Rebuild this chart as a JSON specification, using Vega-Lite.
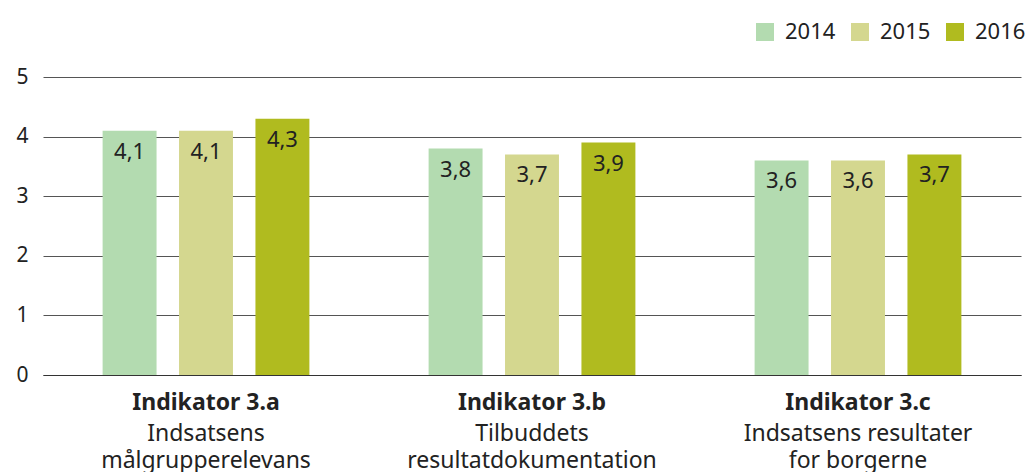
{
  "$schema": "https://vega.github.io/schema/vega-lite/v6.json",
  "width": 978,
  "height": 298,
  "autosize": "none",
  "padding": {"left": 43, "top": 77, "right": 8, "bottom": 97},
  "config": {
    "view": {"stroke": null},
    "font": "Noto Sans",
    "locale": {"number": {"decimal": ",", "thousands": ".", "grouping": [3], "currency": ["", " kr."]}}
  },
  "data": {
    "values": [
      {"indikator": "Indikator 3.a", "year": "2014", "value": 4.1},
      {"indikator": "Indikator 3.a", "year": "2015", "value": 4.1},
      {"indikator": "Indikator 3.a", "year": "2016", "value": 4.3},
      {"indikator": "Indikator 3.b", "year": "2014", "value": 3.8},
      {"indikator": "Indikator 3.b", "year": "2015", "value": 3.7},
      {"indikator": "Indikator 3.b", "year": "2016", "value": 3.9},
      {"indikator": "Indikator 3.c", "year": "2014", "value": 3.6},
      {"indikator": "Indikator 3.c", "year": "2015", "value": 3.6},
      {"indikator": "Indikator 3.c", "year": "2016", "value": 3.7}
    ]
  },
  "encoding": {
    "xOffset": {"field": "year", "type": "nominal", "scale": {"paddingInner": 0.294, "paddingOuter": 0.78}},
    "y": {
      "field": "value", "type": "quantitative",
      "scale": {"domain": [0, 5]},
      "axis": {"values": [0, 1, 2, 3, 4, 5], "grid": true, "gridColor": "#555", "gridWidth": 1, "domain": false, "ticks": false, "labelPadding": 15, "labelFontSize": 21, "labelColor": "#222", "title": null}
    }
  },
  "layer": [
    {
      "mark": {"type": "bar"},
      "encoding": {
        "x": {
          "field": "indikator", "type": "nominal", "sort": null,
          "scale": {"paddingInner": 0, "paddingOuter": 0},
          "axis": {"orient": "bottom", "title": null, "labelAngle": 0, "ticks": false, "domain": true, "domainColor": "#333", "labelFontWeight": "bold", "labelFontSize": 23, "labelColor": "#222", "labelPadding": 16, "labelLimit": 0}
        },
        "color": {
          "field": "year", "type": "nominal",
          "scale": {"domain": ["2014", "2015", "2016"], "range": ["#b3dbb0", "#d4d78f", "#b0bb1f"]},
          "legend": {"orient": "none", "legendX": 711, "legendY": -56, "direction": "horizontal", "title": null, "symbolType": "square", "symbolSize": 324, "symbolStrokeWidth": 0, "symbolOpacity": 1, "labelFontSize": 22, "labelColor": "#222", "labelOffset": 9, "columnPadding": 13}
        }
      }
    },
    {
      "mark": {"type": "text", "baseline": "middle", "dy": 21, "fontSize": 22, "color": "#222"},
      "encoding": {
        "x": {
          "field": "indikator", "type": "nominal", "sort": null,
          "scale": {"paddingInner": 0, "paddingOuter": 0},
          "axis": {"orient": "bottom", "title": null, "labelAngle": 0, "ticks": false, "domain": false, "labelFontSize": 23, "labelColor": "#222", "labelPadding": 47, "labelLineHeight": 27, "labelLimit": 0,
            "labelExpr": "datum.value == 'Indikator 3.a' ? ['Indsatsens', 'målgrupperelevans'] : datum.value == 'Indikator 3.b' ? ['Tilbuddets', 'resultatdokumentation'] : ['Indsatsens resultater', 'for borgerne']"}
        },
        "text": {"field": "value", "type": "quantitative", "format": ".1f"}
      }
    }
  ],
  "resolve": {"axis": {"x": "independent"}}
}
